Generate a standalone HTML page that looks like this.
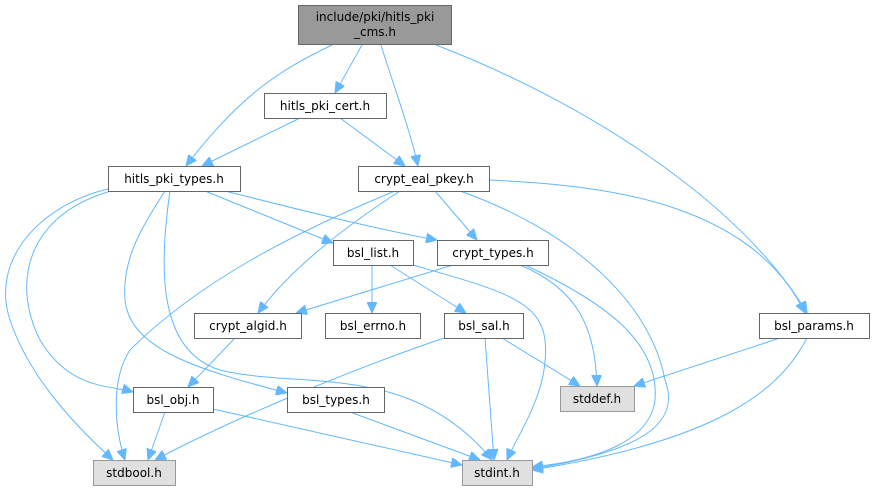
<!DOCTYPE html>
<html><head><meta charset="utf-8"><style>
html,body{margin:0;padding:0;background:#fff;}
svg{display:block;}
text{font-family:"DejaVu Sans","Liberation Sans",sans-serif;font-size:12px;fill:#000;text-anchor:middle;}
.n{fill:#fff;stroke:#666;stroke-width:1;}
.g{fill:#e0e0e0;stroke:#999;stroke-width:1;}
path.e{fill:none;stroke:#63b8ff;stroke-width:1;marker-end:url(#a);}
</style></head><body>
<svg width="875" height="491" viewBox="0 0 875 491" xmlns="http://www.w3.org/2000/svg">
<defs><marker id="a" markerWidth="11" markerHeight="10" refX="11" refY="5" orient="auto" markerUnits="userSpaceOnUse"><path d="M0,0 L11,5 L0,10 z" fill="#63b8ff" stroke="#63b8ff"/></marker></defs>
<path class="e" d="M332,45 C280,70 240,95 186,166"/>
<path class="e" d="M362,45 L335,93"/>
<path class="e" d="M381,45 C395,90 410,130 418,166"/>
<path class="e" d="M436,45 C580,100 740,200 807,313"/>
<path class="e" d="M300,118 L202,166"/>
<path class="e" d="M340,118 L405,166"/>
<path class="e" d="M108,189 C40,205 -10,260 10,320 C30,380 80,430 113,460"/>
<path class="e" d="M108,192 C30,215 10,280 40,340 C70,390 110,385 133,392"/>
<path class="e" d="M165,191 C140,230 122,260 125,300 C130,350 200,370 287,393"/>
<path class="e" d="M170,191 C160,260 155,350 220,370 C300,390 410,360 492,460"/>
<path class="e" d="M205,191 L333,243"/>
<path class="e" d="M225,191 C300,210 380,230 437,240"/>
<path class="e" d="M395,191 C300,230 200,280 130,350 C110,380 115,430 125,460"/>
<path class="e" d="M400,191 C340,230 290,270 258,313"/>
<path class="e" d="M435,191 L477,240"/>
<path class="e" d="M460,191 C570,230 650,300 665,380 C680,420 650,450 532,469"/>
<path class="e" d="M489,180 C600,185 750,200 805,313"/>
<path class="e" d="M372,265 L372,313"/>
<path class="e" d="M390,265 L466,313"/>
<path class="e" d="M413,265 C500,290 540,300 545,340 C550,390 520,430 507,460"/>
<path class="e" d="M453,265 L296,313"/>
<path class="e" d="M520,265 C580,290 595,330 597,386"/>
<path class="e" d="M525,265 C600,300 660,340 655,400 C650,440 600,460 532,467"/>
<path class="e" d="M235,338 L188,387"/>
<path class="e" d="M444,338 C350,370 230,420 155,460"/>
<path class="e" d="M485,338 L494,460"/>
<path class="e" d="M502,338 L580,386"/>
<path class="e" d="M780,338 L634,386"/>
<path class="e" d="M807,338 C780,390 720,440 532,470"/>
<path class="e" d="M165,412 L148,460"/>
<path class="e" d="M213,409 L462,465"/>
<path class="e" d="M350,412 L480,460"/>

<rect x="298.5" y="5.5" width="153" height="39" fill="#999" stroke="#666"/>
<text x="375" y="21">include/pki/hitls_pki</text><text x="375" y="36">_cms.h</text>
<rect class="n" x="264.5" y="93.5" width="122" height="25"/><text x="325" y="110">hitls_pki_cert.h</text>
<rect class="n" x="108.5" y="166.5" width="132" height="25"/><text x="174" y="183">hitls_pki_types.h</text>
<rect class="n" x="358.5" y="166.5" width="131" height="25"/><text x="424" y="183">crypt_eal_pkey.h</text>
<rect class="n" x="333.5" y="240.5" width="80" height="25"/><text x="373" y="257">bsl_list.h</text>
<rect class="n" x="437.5" y="240.5" width="111" height="25"/><text x="493" y="257">crypt_types.h</text>
<rect class="n" x="194.5" y="313.5" width="107" height="25"/><text x="248" y="330">crypt_algid.h</text>
<rect class="n" x="325.5" y="313.5" width="95" height="25"/><text x="373" y="330">bsl_errno.h</text>
<rect class="n" x="444.5" y="313.5" width="79" height="25"/><text x="484" y="330">bsl_sal.h</text>
<rect class="n" x="759.5" y="313.5" width="110" height="25"/><text x="814" y="330">bsl_params.h</text>
<rect class="n" x="133.5" y="387.5" width="80" height="25"/><text x="173" y="404">bsl_obj.h</text>
<rect class="n" x="287.5" y="387.5" width="97" height="25"/><text x="336" y="404">bsl_types.h</text>
<rect class="g" x="560.5" y="386.5" width="74" height="25"/><text x="597" y="403">stddef.h</text>
<rect class="g" x="93.5" y="460.5" width="82" height="25"/><text x="134" y="477">stdbool.h</text>
<rect class="g" x="462.5" y="460.5" width="70" height="25"/><text x="497" y="477">stdint.h</text>
</svg>
</body></html>
